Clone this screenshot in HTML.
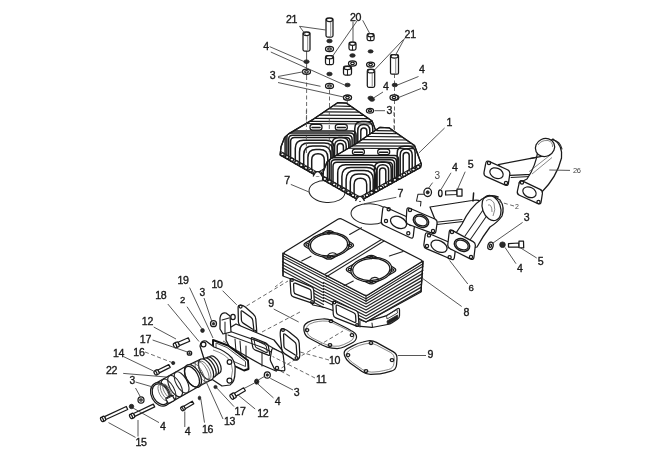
<!DOCTYPE html><html><head><meta charset="utf-8"><style>
html,body{margin:0;padding:0;background:#fff;width:650px;height:460px;overflow:hidden}
svg{display:block;filter:blur(0.3px)}
.o{fill:#fff;stroke:#1a1a1a;stroke-width:1.25;stroke-linejoin:round}
.on{fill:none;stroke:#1a1a1a;stroke-width:1.25;stroke-linejoin:round}
.f{fill:none;stroke:#222;stroke-width:1.05;stroke-linecap:round;stroke-linejoin:round}
.ft{fill:none;stroke:#1a1a1a;stroke-width:1.5;stroke-linecap:round;stroke-linejoin:round}
.fm{fill:none;stroke:#1a1a1a;stroke-width:1.25;stroke-linecap:round}
.fn{fill:none;stroke:#252525;stroke-width:1.25;stroke-linecap:round;stroke-linejoin:round}
.thin{fill:none;stroke:#555;stroke-width:0.7}
.l{stroke:#444;stroke-width:0.9;fill:none}
.d{stroke:#444;stroke-width:0.8;fill:none;stroke-dasharray:4 2.5}
.d2{stroke:#555;stroke-width:0.9;fill:none;stroke-dasharray:4 2.5}
.g7{fill:none;stroke:#222;stroke-width:1.0}
.g7f{fill:#fff;stroke:#222;stroke-width:1.0}
.dk{fill:#2a2a2a;stroke:#1c1c1c;stroke-width:0.8}
.t{font-family:"Liberation Sans",sans-serif;fill:#1a1a1a;stroke:#1a1a1a;stroke-width:0.35px;letter-spacing:-0.3px}
.tl{font-family:"Liberation Sans",sans-serif;fill:#444;letter-spacing:-0.3px}
</style></head><body>
<svg width="650" height="460" viewBox="0 0 650 460">
<rect width="650" height="460" fill="#fff"/>
<line x1="306.6" y1="76.0" x2="306.6" y2="140.0" class="d"/>
<line x1="329.5" y1="90.0" x2="329.5" y2="150.0" class="d"/>
<line x1="347.3" y1="101.0" x2="347.3" y2="112.0" class="d"/>
<line x1="394.5" y1="74.0" x2="394.5" y2="150.0" class="d"/>
<line x1="306.6" y1="51.0" x2="306.6" y2="76.0" class="l"/>
<rect x="303.0" y="32.0" width="7" height="19.0" rx="1.5" class="o"/>
<ellipse cx="306.5" cy="33.8" rx="3.1" ry="1.8" class="o"/>
<line x1="307.7" y1="36.0" x2="307.7" y2="50.0" class="thin"/>
<ellipse cx="306.5" cy="61.7" rx="2.7" ry="1.8" class="dk"/>
<ellipse cx="306.5" cy="71.8" rx="4.0" ry="2.6" class="o"/>
<ellipse cx="306.5" cy="71.8" rx="1.8" ry="1.2" class="o"/>
<rect x="326.0" y="18.0" width="7" height="19.0" rx="1.5" class="o"/>
<ellipse cx="329.5" cy="19.8" rx="3.1" ry="1.8" class="o"/>
<line x1="330.7" y1="22.0" x2="330.7" y2="36.0" class="thin"/>
<ellipse cx="329.5" cy="41.0" rx="2.7" ry="1.8" class="dk"/>
<ellipse cx="329.5" cy="49.0" rx="4.0" ry="2.6" class="o"/>
<ellipse cx="329.5" cy="49.0" rx="1.8" ry="1.2" class="o"/>
<rect x="325.5" y="55.5" width="8" height="9" rx="1.8" class="o"/>
<ellipse cx="329.5" cy="57.3" rx="3.4" ry="1.6" class="o"/>
<line x1="329.5" y1="59.0" x2="329.5" y2="64.5" class="f"/>
<ellipse cx="329.5" cy="74.0" rx="2.7" ry="1.8" class="dk"/>
<ellipse cx="329.5" cy="86.0" rx="4.0" ry="2.6" class="o"/>
<ellipse cx="329.5" cy="86.0" rx="1.8" ry="1.2" class="o"/>
<rect x="349.0" y="42.0" width="7" height="8" rx="1.8" class="o"/>
<ellipse cx="352.5" cy="43.8" rx="2.9" ry="1.6" class="o"/>
<line x1="352.5" y1="45.5" x2="352.5" y2="50.0" class="f"/>
<ellipse cx="352.5" cy="55.5" rx="2.7" ry="1.8" class="dk"/>
<ellipse cx="352.5" cy="63.4" rx="4.0" ry="2.6" class="o"/>
<ellipse cx="352.5" cy="63.4" rx="1.8" ry="1.2" class="o"/>
<rect x="343.5" y="66.1" width="8" height="9" rx="1.8" class="o"/>
<ellipse cx="347.5" cy="67.9" rx="3.4" ry="1.6" class="o"/>
<line x1="347.5" y1="69.6" x2="347.5" y2="75.1" class="f"/>
<ellipse cx="347.5" cy="85.0" rx="2.7" ry="1.8" class="dk"/>
<ellipse cx="347.5" cy="97.6" rx="4.0" ry="2.6" class="o"/>
<ellipse cx="347.5" cy="97.6" rx="1.8" ry="1.2" class="o"/>
<rect x="367.1" y="33.5" width="7" height="7" rx="1.8" class="o"/>
<ellipse cx="370.6" cy="35.3" rx="2.9" ry="1.6" class="o"/>
<line x1="370.6" y1="37.0" x2="370.6" y2="40.5" class="f"/>
<ellipse cx="370.6" cy="51.4" rx="2.5" ry="1.6" class="dk"/>
<ellipse cx="370.6" cy="64.6" rx="4.0" ry="2.6" class="o"/>
<ellipse cx="370.6" cy="64.6" rx="1.8" ry="1.2" class="o"/>
<rect x="367.3" y="69.4" width="7.4" height="17.9" rx="1.5" class="o"/>
<ellipse cx="371.0" cy="71.2" rx="3.3" ry="1.8" class="o"/>
<line x1="372.2" y1="73.4" x2="372.2" y2="86.3" class="thin"/>
<ellipse cx="370.6" cy="98.0" rx="2.7" ry="1.8" class="dk"/>
<rect x="390.5" y="54.5" width="8" height="19.7" rx="1.5" class="o"/>
<ellipse cx="394.5" cy="56.3" rx="3.6" ry="1.8" class="o"/>
<line x1="395.7" y1="58.5" x2="395.7" y2="73.2" class="thin"/>
<ellipse cx="394.8" cy="85.0" rx="2.7" ry="1.8" class="dk"/>
<ellipse cx="394.8" cy="97.6" rx="4.0" ry="2.6" class="o"/>
<ellipse cx="394.8" cy="97.6" rx="1.8" ry="1.2" class="o"/>
<ellipse cx="347.5" cy="97.6" rx="4.0" ry="2.6" class="o"/>
<ellipse cx="347.5" cy="97.6" rx="1.8" ry="1.2" class="o"/>
<ellipse cx="372.0" cy="99.5" rx="2.6" ry="1.8" class="dk"/>
<ellipse cx="370.0" cy="110.7" rx="3.6" ry="2.4" class="o"/>
<ellipse cx="370.0" cy="110.7" rx="1.6" ry="1.1" class="o"/>
<ellipse cx="394.0" cy="97.5" rx="4.0" ry="2.6" class="o"/>
<ellipse cx="394.0" cy="97.5" rx="1.8" ry="1.2" class="o"/>
<line x1="299.5" y1="26.3" x2="305.5" y2="34.5" class="l"/>
<line x1="299.5" y1="26.3" x2="325.8" y2="30.0" class="l"/>
<line x1="357.0" y1="21.0" x2="332.0" y2="57.0" class="l"/>
<line x1="353.0" y1="21.5" x2="353.0" y2="42.0" class="l"/>
<line x1="362.7" y1="20.3" x2="370.0" y2="34.0" class="l"/>
<line x1="404.6" y1="38.3" x2="395.0" y2="56.0" class="l"/>
<line x1="403.4" y1="39.5" x2="373.5" y2="71.0" class="l"/>
<line x1="269.6" y1="46.6" x2="304.0" y2="61.5" class="l"/>
<line x1="270.8" y1="52.0" x2="344.5" y2="85.0" class="l"/>
<line x1="278.0" y1="76.5" x2="303.0" y2="71.8" class="l"/>
<line x1="278.0" y1="77.5" x2="320.5" y2="86.3" class="l"/>
<line x1="278.0" y1="82.5" x2="343.5" y2="97.0" class="l"/>
<line x1="418.5" y1="76.5" x2="397.5" y2="85.0" class="l"/>
<line x1="421.0" y1="88.5" x2="398.6" y2="97.5" class="l"/>
<line x1="383.0" y1="92.0" x2="373.5" y2="98.0" class="l"/>
<line x1="374.6" y1="110.7" x2="385.0" y2="110.7" class="l"/>
<ellipse cx="327.0" cy="191.5" rx="18.0" ry="11.0" class="g7" transform="rotate(4 327.0 191.5)"/>
<ellipse cx="370.0" cy="214.0" rx="19.0" ry="10.3" class="g7f" transform="rotate(3 370.0 214.0)"/>
<clipPath id="hcL"><polygon points="380.0,127.3 389.0,127.8 405.8,139.5 414.5,145.5 421.4,164.2 420.5,167.5 360.0,201.0 322.5,179.5 323.5,171.0 327.0,162.0 331.0,158.5 356.0,143.7 370.0,134.0"/></clipPath>
<polygon points="337.6,102.7 346.6,103.2 363.4,114.9 372.1,120.9 379.0,139.6 378.1,142.9 317.6,176.4 280.1,154.9 281.1,146.4 284.6,137.4 288.6,133.9 313.6,119.1 327.6,109.4" class="o"/>
<g clip-path="url(#hcL)" transform="translate(-42.4,-24.6)">
<line x1="376.7" y1="130.6" x2="393.1" y2="130.9" class="fm"/>
<line x1="372.1" y1="133.4" x2="397.1" y2="133.7" class="fm"/>
<line x1="367.1" y1="136.5" x2="401.6" y2="136.8" class="fm"/>
<line x1="361.9" y1="139.7" x2="406.3" y2="140.0" class="fm"/>
<line x1="356.7" y1="142.9" x2="410.9" y2="143.2" class="fm"/>
<line x1="351.9" y1="145.9" x2="415.2" y2="146.2" class="fm"/>
<line x1="340.0" y1="148.2" x2="413.0" y2="148.6" class="f"/>
<rect x="352.4" y="149" width="12" height="5.6" rx="2.6" class="o"/>
<line x1="354.4" y1="152.2" x2="362.4" y2="152.2" class="ft"/>
<rect x="377.7" y="149" width="12" height="5.6" rx="2.6" class="o"/>
<line x1="379.7" y1="152.2" x2="387.7" y2="152.2" class="ft"/>
<path d="M327.5,184.4 L327.5,159.6 Q327.5,155.6 331.5,155.6 L394.5,155.6 Q398.5,155.6 398.5,159.6 L398.5,181.7" class="ft"/>
<path d="M329.3,185.4 L329.3,161.7 Q329.3,157.7 333.3,157.7 L392.5,157.7 Q396.5,157.7 396.5,161.7 L396.5,182.8" class="ft"/>
<path d="M331.1,186.4 L331.1,163.8 Q331.1,159.8 335.1,159.8 L390.5,159.8 Q394.5,159.8 394.5,163.8 L394.5,183.9" class="ft"/>
<path d="M333.0,187.5 L333.0,166.2 Q333.0,162.2 337.0,162.2 L388.5,162.2 Q392.5,162.2 392.5,166.2 L392.5,185.0" class="ft"/>
<path d="M354.1,199.6 L354.1,184.6 Q354.1,178.3 360.4,178.3 L360.4,178.3 Q366.7,178.3 366.7,184.6 L366.7,199.3" class="ft"/>
<path d="M350.3,197.4 L350.3,182.1 Q350.3,174.1 358.3,174.1 L362.2,174.1 Q370.2,174.1 370.2,182.1 L370.2,197.4" class="ft"/>
<path d="M346.1,195.0 L346.1,179.6 Q346.1,170.6 355.1,170.6 L364.2,170.6 Q373.2,170.6 373.2,179.6 L373.2,195.7" class="ft"/>
<path d="M341.9,192.6 L341.9,176.6 Q341.9,167.6 350.9,167.6 L366.6,167.6 Q375.6,167.6 375.6,176.6 L375.6,194.4" class="ft"/>
<path d="M337.7,190.2 L337.7,172.8 Q337.7,164.8 345.7,164.8 L368.6,164.8 Q376.6,164.8 376.6,172.8 L376.6,193.8" class="ft"/>
<path d="M379.6,192.1 L379.6,171.1 Q379.6,168.0 382.7,168.0 L382.7,168.0 Q385.8,168.0 385.8,171.1 L385.8,188.7" class="ft"/>
<path d="M377.0,193.6 L377.0,170.6 Q377.0,164.8 382.8,164.8 L382.8,164.8 Q388.6,164.8 388.6,170.6 L388.6,187.2" class="ft"/>
<path d="M374.4,195.0 L374.4,169.0 Q374.4,162.0 381.4,162.0 L384.2,162.0 Q391.2,162.0 391.2,169.0 L391.2,185.7" class="ft"/>
<path d="M403.2,179.1 L403.2,155.5 Q403.2,152.5 406.2,152.5 L406.2,152.5 Q409.2,152.5 409.2,155.5 L409.2,175.8" class="ft"/>
<path d="M400.2,180.7 L400.2,155.0 Q400.2,149.0 406.2,149.0 L406.2,149.0 Q412.2,149.0 412.2,155.0 L412.2,174.1" class="ft"/>
<path d="M397.2,182.4 L397.2,153.2 Q397.2,146.2 404.2,146.2 L408.2,146.2 Q415.2,146.2 415.2,153.2 L415.2,172.4" class="ft"/>
</g>
<polyline points="280.6,151.4 317.6,172.4 378.1,138.9" class="f"/>
<ellipse cx="282.4" cy="154.4" rx="1.8" ry="1.6" class="o"/>
<ellipse cx="287.1" cy="157.1" rx="1.8" ry="1.6" class="o"/>
<ellipse cx="291.8" cy="159.8" rx="1.8" ry="1.6" class="o"/>
<ellipse cx="296.5" cy="162.5" rx="1.8" ry="1.6" class="o"/>
<ellipse cx="301.2" cy="165.2" rx="1.8" ry="1.6" class="o"/>
<ellipse cx="305.9" cy="167.9" rx="1.8" ry="1.6" class="o"/>
<ellipse cx="310.6" cy="170.6" rx="1.8" ry="1.6" class="o"/>
<ellipse cx="315.3" cy="173.3" rx="1.8" ry="1.6" class="o"/>
<ellipse cx="319.9" cy="173.3" rx="1.8" ry="1.6" class="o"/>
<ellipse cx="324.6" cy="170.7" rx="1.8" ry="1.6" class="o"/>
<ellipse cx="329.2" cy="168.2" rx="1.8" ry="1.6" class="o"/>
<ellipse cx="333.9" cy="165.6" rx="1.8" ry="1.6" class="o"/>
<ellipse cx="338.5" cy="163.0" rx="1.8" ry="1.6" class="o"/>
<ellipse cx="343.2" cy="160.4" rx="1.8" ry="1.6" class="o"/>
<ellipse cx="347.9" cy="157.8" rx="1.8" ry="1.6" class="o"/>
<ellipse cx="352.5" cy="155.3" rx="1.8" ry="1.6" class="o"/>
<ellipse cx="357.2" cy="152.7" rx="1.8" ry="1.6" class="o"/>
<ellipse cx="361.8" cy="150.1" rx="1.8" ry="1.6" class="o"/>
<ellipse cx="366.5" cy="147.5" rx="1.8" ry="1.6" class="o"/>
<ellipse cx="371.1" cy="145.0" rx="1.8" ry="1.6" class="o"/>
<ellipse cx="375.8" cy="142.4" rx="1.8" ry="1.6" class="o"/>
<polygon points="337.6,102.7 346.6,103.2 363.4,114.9 372.1,120.9 379.0,139.6 378.1,142.9 317.6,176.4 280.1,154.9 281.1,146.4 284.6,137.4 288.6,133.9 313.6,119.1 327.6,109.4" class="on"/>
<path d="M313.1,176.4 Q317.6,166.9 322.1,176.4" class="o"/>
<clipPath id="hcR"><polygon points="380.0,127.3 389.0,127.8 405.8,139.5 414.5,145.5 421.4,164.2 420.5,167.5 360.0,201.0 322.5,179.5 323.5,171.0 327.0,162.0 331.0,158.5 356.0,143.7 370.0,134.0"/></clipPath>
<polygon points="380.0,127.3 389.0,127.8 405.8,139.5 414.5,145.5 421.4,164.2 420.5,167.5 360.0,201.0 322.5,179.5 323.5,171.0 327.0,162.0 331.0,158.5 356.0,143.7 370.0,134.0" class="o"/>
<g clip-path="url(#hcR)" transform="translate(0,0)">
<line x1="376.7" y1="130.6" x2="393.1" y2="130.9" class="fm"/>
<line x1="372.1" y1="133.4" x2="397.1" y2="133.7" class="fm"/>
<line x1="367.1" y1="136.5" x2="401.6" y2="136.8" class="fm"/>
<line x1="361.9" y1="139.7" x2="406.3" y2="140.0" class="fm"/>
<line x1="356.7" y1="142.9" x2="410.9" y2="143.2" class="fm"/>
<line x1="351.9" y1="145.9" x2="415.2" y2="146.2" class="fm"/>
<line x1="340.0" y1="148.2" x2="413.0" y2="148.6" class="f"/>
<rect x="352.4" y="149" width="12" height="5.6" rx="2.6" class="o"/>
<line x1="354.4" y1="152.2" x2="362.4" y2="152.2" class="ft"/>
<rect x="377.7" y="149" width="12" height="5.6" rx="2.6" class="o"/>
<line x1="379.7" y1="152.2" x2="387.7" y2="152.2" class="ft"/>
<path d="M327.5,184.4 L327.5,159.6 Q327.5,155.6 331.5,155.6 L394.5,155.6 Q398.5,155.6 398.5,159.6 L398.5,181.7" class="ft"/>
<path d="M329.3,185.4 L329.3,161.7 Q329.3,157.7 333.3,157.7 L392.5,157.7 Q396.5,157.7 396.5,161.7 L396.5,182.8" class="ft"/>
<path d="M331.1,186.4 L331.1,163.8 Q331.1,159.8 335.1,159.8 L390.5,159.8 Q394.5,159.8 394.5,163.8 L394.5,183.9" class="ft"/>
<path d="M333.0,187.5 L333.0,166.2 Q333.0,162.2 337.0,162.2 L388.5,162.2 Q392.5,162.2 392.5,166.2 L392.5,185.0" class="ft"/>
<path d="M354.1,199.6 L354.1,184.6 Q354.1,178.3 360.4,178.3 L360.4,178.3 Q366.7,178.3 366.7,184.6 L366.7,199.3" class="ft"/>
<path d="M350.3,197.4 L350.3,182.1 Q350.3,174.1 358.3,174.1 L362.2,174.1 Q370.2,174.1 370.2,182.1 L370.2,197.4" class="ft"/>
<path d="M346.1,195.0 L346.1,179.6 Q346.1,170.6 355.1,170.6 L364.2,170.6 Q373.2,170.6 373.2,179.6 L373.2,195.7" class="ft"/>
<path d="M341.9,192.6 L341.9,176.6 Q341.9,167.6 350.9,167.6 L366.6,167.6 Q375.6,167.6 375.6,176.6 L375.6,194.4" class="ft"/>
<path d="M337.7,190.2 L337.7,172.8 Q337.7,164.8 345.7,164.8 L368.6,164.8 Q376.6,164.8 376.6,172.8 L376.6,193.8" class="ft"/>
<path d="M379.6,192.1 L379.6,171.1 Q379.6,168.0 382.7,168.0 L382.7,168.0 Q385.8,168.0 385.8,171.1 L385.8,188.7" class="ft"/>
<path d="M377.0,193.6 L377.0,170.6 Q377.0,164.8 382.8,164.8 L382.8,164.8 Q388.6,164.8 388.6,170.6 L388.6,187.2" class="ft"/>
<path d="M374.4,195.0 L374.4,169.0 Q374.4,162.0 381.4,162.0 L384.2,162.0 Q391.2,162.0 391.2,169.0 L391.2,185.7" class="ft"/>
<path d="M403.2,179.1 L403.2,155.5 Q403.2,152.5 406.2,152.5 L406.2,152.5 Q409.2,152.5 409.2,155.5 L409.2,175.8" class="ft"/>
<path d="M400.2,180.7 L400.2,155.0 Q400.2,149.0 406.2,149.0 L406.2,149.0 Q412.2,149.0 412.2,155.0 L412.2,174.1" class="ft"/>
<path d="M397.2,182.4 L397.2,153.2 Q397.2,146.2 404.2,146.2 L408.2,146.2 Q415.2,146.2 415.2,153.2 L415.2,172.4" class="ft"/>
</g>
<polyline points="323.0,176.0 360.0,197.0 420.5,163.5" class="f"/>
<ellipse cx="324.8" cy="179.0" rx="1.8" ry="1.6" class="o"/>
<ellipse cx="329.5" cy="181.7" rx="1.8" ry="1.6" class="o"/>
<ellipse cx="334.2" cy="184.4" rx="1.8" ry="1.6" class="o"/>
<ellipse cx="338.9" cy="187.1" rx="1.8" ry="1.6" class="o"/>
<ellipse cx="343.6" cy="189.8" rx="1.8" ry="1.6" class="o"/>
<ellipse cx="348.3" cy="192.5" rx="1.8" ry="1.6" class="o"/>
<ellipse cx="353.0" cy="195.2" rx="1.8" ry="1.6" class="o"/>
<ellipse cx="357.7" cy="197.9" rx="1.8" ry="1.6" class="o"/>
<ellipse cx="362.3" cy="197.9" rx="1.8" ry="1.6" class="o"/>
<ellipse cx="367.0" cy="195.3" rx="1.8" ry="1.6" class="o"/>
<ellipse cx="371.6" cy="192.8" rx="1.8" ry="1.6" class="o"/>
<ellipse cx="376.3" cy="190.2" rx="1.8" ry="1.6" class="o"/>
<ellipse cx="380.9" cy="187.6" rx="1.8" ry="1.6" class="o"/>
<ellipse cx="385.6" cy="185.0" rx="1.8" ry="1.6" class="o"/>
<ellipse cx="390.2" cy="182.4" rx="1.8" ry="1.6" class="o"/>
<ellipse cx="394.9" cy="179.9" rx="1.8" ry="1.6" class="o"/>
<ellipse cx="399.6" cy="177.3" rx="1.8" ry="1.6" class="o"/>
<ellipse cx="404.2" cy="174.7" rx="1.8" ry="1.6" class="o"/>
<ellipse cx="408.9" cy="172.1" rx="1.8" ry="1.6" class="o"/>
<ellipse cx="413.5" cy="169.6" rx="1.8" ry="1.6" class="o"/>
<ellipse cx="418.2" cy="167.0" rx="1.8" ry="1.6" class="o"/>
<polygon points="380.0,127.3 389.0,127.8 405.8,139.5 414.5,145.5 421.4,164.2 420.5,167.5 360.0,201.0 322.5,179.5 323.5,171.0 327.0,162.0 331.0,158.5 356.0,143.7 370.0,134.0" class="on"/>
<path d="M355.5,201.0 Q360.0,191.5 364.5,201.0" class="o"/>
<line x1="306.4" y1="110.0" x2="306.4" y2="154.0" class="d2"/>
<line x1="329.3" y1="112.0" x2="329.3" y2="152.0" class="d2"/>
<line x1="394.0" y1="112.0" x2="394.0" y2="134.0" class="d2"/>
<path d="M351.5,319.5 Q352.0,317.0 354.4,317.6 L365.6,320.4 Q368.0,321.0 370.4,320.3 L383.6,316.7 Q386.0,316.0 388.1,314.7 L397.4,308.8 Q399.5,307.5 399.5,310.0 L399.5,315.5 Q399.5,318.0 397.4,319.3 L392.1,322.7 Q390.0,324.0 387.5,324.5 L374.5,327.0 Q372.0,327.5 369.5,327.2 L360.5,326.3 Q358.0,326.0 355.8,324.8 L353.2,323.2 Q351.0,322.0 351.5,319.5 Z" class="o"/>
<path d="M387,321 L397.5,315 L398,318.5 L387.5,324.5 Z" fill="#222" stroke="#222" stroke-width="0.8"/>
<path d="M386.5,315.5 L397,309.5 L397.5,313 L387,319 Z" fill="none" stroke="#333" stroke-width="0.9"/>
<line x1="360.0" y1="321.5" x2="360.0" y2="327.0" class="f"/>
<line x1="372.0" y1="323.0" x2="372.5" y2="327.5" class="f"/>
<polygon points="283.0,253.0 283.0,276.0 291.0,279.0 313.0,305.0 324.5,307.5 366.0,322.0 421.0,292.0 423.0,261.0 366.0,296.0" class="o"/>
<polyline points="282.5,261.7 323.5,283.5" class="fn"/>
<polyline points="282.5,264.7 323.5,286.5" class="fn"/>
<polyline points="282.5,267.7 323.5,289.5" class="fn"/>
<polyline points="282.5,270.7 323.5,292.5" class="fn"/>
<polyline points="296.0,280.7 323.5,295.5" class="fn"/>
<polyline points="296.0,283.7 323.5,298.5" class="fn"/>
<polyline points="296.0,286.7 323.5,301.5" class="fn"/>
<polyline points="296.0,289.7 323.5,304.5" class="fn"/>
<polyline points="296.0,292.7 323.5,307.5" class="fn"/>
<polyline points="323.5,282.5 366.0,304.0 423.0,270.2" class="fn"/>
<polyline points="323.5,285.5 366.0,307.0 422.6,273.6" class="fn"/>
<polyline points="323.5,288.5 366.0,310.0 422.2,277.1" class="fn"/>
<polyline points="323.5,291.5 366.0,313.0 421.8,280.6" class="fn"/>
<polyline points="323.5,294.5 366.0,316.0 421.4,284.0" class="fn"/>
<polyline points="323.5,297.5 366.0,319.0 421.0,287.4" class="fn"/>
<polyline points="323.5,300.5 366.0,322.0 420.6,290.9" class="fn"/>
<polyline points="283.0,255.8 366.0,298.8 423.0,263.8" class="f"/>
<polyline points="283.0,258.3 366.0,301.3 423.0,266.3" class="f"/>
<line x1="283.0" y1="253.0" x2="283.0" y2="276.0" class="on"/>
<line x1="423.0" y1="261.0" x2="421.0" y2="292.0" class="on"/>
<line x1="366.0" y1="296.0" x2="366.0" y2="302.0" class="f"/>
<path d="M285.2,254.2 Q283.0,253.0 285.1,251.7 L337.9,219.3 Q340.0,218.0 342.2,219.2 L420.8,259.8 Q423.0,261.0 420.9,262.3 L368.1,294.7 Q366.0,296.0 363.8,294.8 Z" class="o"/>
<line x1="324.5" y1="274.5" x2="381.5" y2="239.5" class="f"/>
<line x1="326.0" y1="277.0" x2="384.0" y2="241.0" class="f"/>
<line x1="349.6" y1="234.5" x2="361.5" y2="227.7" class="f"/>
<line x1="389.4" y1="256.0" x2="403.0" y2="251.4" class="f"/>
<line x1="301.7" y1="261.0" x2="311.0" y2="256.3" class="f"/>
<line x1="344.0" y1="285.7" x2="353.3" y2="281.0" class="f"/>
<path d="M305.9,247.0 Q302.0,244.8 305.9,242.6 L325.1,231.7 Q329.0,229.5 332.9,231.8 L351.6,243.0 Q355.5,245.3 351.6,247.5 L332.9,258.1 Q329.0,260.3 325.1,258.1 Z" class="o"/>
<ellipse cx="329.0" cy="244.8" rx="20.5" ry="12.3" class="o" transform="rotate(-4 329.0 244.8)"/>
<ellipse cx="329.0" cy="244.8" rx="18.6" ry="11.0" class="on" transform="rotate(-4 329.0 244.8)"/>
<ellipse cx="307.5" cy="244.8" rx="1.6" ry="1.2" class="on"/>
<ellipse cx="329.0" cy="232.8" rx="1.6" ry="1.2" class="on"/>
<ellipse cx="350.0" cy="245.3" rx="1.6" ry="1.2" class="on"/>
<ellipse cx="329.0" cy="256.8" rx="1.6" ry="1.2" class="on"/>
<path d="M327.0,255.8 Q331.0,250.8 336.0,253.8" class="f"/>
<path d="M348.2,271.7 Q344.3,269.5 348.2,267.3 L367.4,256.4 Q371.3,254.2 375.2,256.5 L393.9,267.7 Q397.8,270.0 393.9,272.2 L375.2,282.8 Q371.3,285.0 367.4,282.8 Z" class="o"/>
<ellipse cx="371.3" cy="269.5" rx="20.5" ry="12.3" class="o" transform="rotate(-4 371.3 269.5)"/>
<ellipse cx="371.3" cy="269.5" rx="18.6" ry="11.0" class="on" transform="rotate(-4 371.3 269.5)"/>
<ellipse cx="349.8" cy="269.5" rx="1.6" ry="1.2" class="on"/>
<ellipse cx="371.3" cy="257.5" rx="1.6" ry="1.2" class="on"/>
<ellipse cx="392.3" cy="270.0" rx="1.6" ry="1.2" class="on"/>
<ellipse cx="371.3" cy="281.5" rx="1.6" ry="1.2" class="on"/>
<path d="M369.3,280.5 Q373.3,275.5 378.3,278.5" class="f"/>
<path d="M290.1,280.5 Q290.0,278.0 292.3,278.9 L311.2,286.6 Q313.5,287.5 313.7,290.0 L314.3,301.5 Q314.5,304.0 312.1,303.2 L293.4,296.8 Q291.0,296.0 290.9,293.5 Z" class="o"/>
<path d="M293.6,284.5 Q293.5,282.5 295.4,283.2 L309.1,288.8 Q311.0,289.5 311.1,291.5 L311.4,298.0 Q311.5,300.0 309.6,299.3 L295.9,294.2 Q294.0,293.5 293.9,291.5 Z" class="on"/>
<path d="M332.7,303.0 Q332.5,300.5 334.8,301.5 L355.9,310.5 Q358.2,311.5 358.3,314.0 L358.9,324.5 Q359.0,327.0 356.7,326.1 L335.8,317.9 Q333.5,317.0 333.3,314.5 Z" class="o"/>
<path d="M336.1,306.5 Q336.0,304.5 337.8,305.3 L353.7,312.7 Q355.5,313.5 355.6,315.5 L355.9,321.0 Q356.0,323.0 354.2,322.2 L338.3,314.8 Q336.5,314.0 336.4,312.0 Z" class="on"/>
<ellipse cx="292.0" cy="280.0" rx="1.3" ry="1.3" class="on"/>
<ellipse cx="312.0" cy="302.0" rx="1.3" ry="1.3" class="on"/>
<ellipse cx="334.5" cy="302.5" rx="1.3" ry="1.3" class="on"/>
<ellipse cx="357.0" cy="325.0" rx="1.3" ry="1.3" class="on"/>
<path d="M430,207 L472,200.5 Q480,199 484,203 L480,216 Q472,219 463,221.5 L437,224.5 Z" class="o"/>
<line x1="438.0" y1="222.0" x2="462.0" y2="219.5" class="f"/>
<path d="M454,236 L462,224 Q470,207 482,199 Q492,194 500,200 Q505,207 502,216 Q498,222 490,227 Q483,236 477,247 L466,250 Z" class="o"/>
<line x1="465.0" y1="236.0" x2="483.0" y2="210.0" class="f"/>
<line x1="470.0" y1="240.0" x2="488.0" y2="214.0" class="f"/>
<ellipse cx="491.5" cy="208.0" rx="9.0" ry="13.0" class="o" transform="rotate(-20 491.5 208.0)"/>
<path d="M486,201 Q490,197 494,203 Q496,210 493,216" class="thin"/>
<path d="M488,205 Q492,204 492,212" class="thin"/>
<path d="M484,198 Q490,194 498,197" class="ft"/>
<line x1="473.0" y1="201.0" x2="473.6" y2="193.0" class="ft"/>
<path d="M382.7,209.0 Q383.0,206.0 385.7,207.2 L412.3,219.3 Q415.0,220.5 414.7,223.5 L413.3,236.0 Q413.0,239.0 410.3,237.7 L383.7,225.3 Q381.0,224.0 381.3,221.0 Z" class="o"/>
<ellipse cx="398.5" cy="222.4" rx="8.5" ry="5.5" class="o" transform="rotate(25 398.5 222.4)"/>
<ellipse cx="388.7" cy="209.3" rx="1.6" ry="1.6" class="on"/>
<ellipse cx="408.3" cy="233.3" rx="1.6" ry="1.6" class="on"/>
<ellipse cx="386.0" cy="221.0" rx="1.6" ry="1.6" class="on"/>
<ellipse cx="411.0" cy="224.0" rx="1.6" ry="1.6" class="on"/>
<path d="M406.8,210.0 Q407.0,207.0 409.8,208.2 L434.8,219.0 Q437.6,220.2 437.1,223.2 L435.9,231.3 Q435.4,234.3 432.6,233.3 L408.8,224.5 Q406.0,223.5 406.2,220.5 Z" class="o"/>
<ellipse cx="421.0" cy="221.0" rx="8.0" ry="6.0" class="ft" transform="rotate(25 421.0 221.0)"/>
<ellipse cx="421.0" cy="221.0" rx="6.5" ry="4.5" class="on" transform="rotate(25 421.0 221.0)"/>
<ellipse cx="410.0" cy="210.0" rx="1.6" ry="1.6" class="on"/>
<ellipse cx="433.0" cy="231.0" rx="1.6" ry="1.6" class="on"/>
<path d="M425.2,235.0 Q425.6,232.0 428.4,233.2 L453.2,244.0 Q456.0,245.2 455.6,248.2 L454.4,257.4 Q454.0,260.4 451.2,259.2 L426.3,248.6 Q423.5,247.4 423.9,244.4 Z" class="o"/>
<ellipse cx="439.0" cy="246.3" rx="8.5" ry="5.5" class="o" transform="rotate(25 439.0 246.3)"/>
<ellipse cx="429.0" cy="235.4" rx="1.6" ry="1.6" class="on"/>
<ellipse cx="449.6" cy="257.2" rx="1.6" ry="1.6" class="on"/>
<ellipse cx="427.0" cy="246.0" rx="1.6" ry="1.6" class="on"/>
<ellipse cx="452.0" cy="248.0" rx="1.6" ry="1.6" class="on"/>
<path d="M449.2,232.0 Q449.6,229.0 452.2,230.4 L473.1,241.6 Q475.7,243.0 475.3,246.0 L473.9,257.4 Q473.5,260.4 470.8,259.1 L450.1,248.7 Q447.4,247.4 447.8,244.4 Z" class="o"/>
<ellipse cx="462.0" cy="245.0" rx="8.0" ry="6.0" class="ft" transform="rotate(25 462.0 245.0)"/>
<ellipse cx="462.0" cy="245.0" rx="6.5" ry="4.5" class="on" transform="rotate(25 462.0 245.0)"/>
<ellipse cx="452.0" cy="232.0" rx="1.6" ry="1.6" class="on"/>
<ellipse cx="471.0" cy="257.0" rx="1.6" ry="1.6" class="on"/>
<ellipse cx="490.5" cy="245.8" rx="2.6" ry="3.8" class="o" transform="rotate(15 490.5 245.8)"/>
<ellipse cx="490.5" cy="245.8" rx="1.0" ry="1.6" class="on" transform="rotate(15 490.5 245.8)"/>
<ellipse cx="502.5" cy="244.7" rx="2.8" ry="2.8" class="dk"/>
<path d="M508.5,243.6 L519,243 L519,247 L508.5,247 Z" class="o"/>
<path d="M519,241 L523.5,241.2 L523.7,247.8 L519,247.6 Z" class="o"/>
<ellipse cx="427.7" cy="192.3" rx="3.8" ry="4.2" class="o"/>
<ellipse cx="427.7" cy="192.3" rx="1.5" ry="1.6" class="dk"/>
<ellipse cx="440.3" cy="193.2" rx="1.8" ry="3.3" class="o"/>
<path d="M445.6,191 L457,190.5 L457,194.5 L445.6,195 Z" class="o"/>
<path d="M457,189 L462,189 L462,196 L457,196 Z" class="o"/>
<path d="M424,194.2 L418,194.2 L416.5,201 L421,201.5 L420.5,206" class="f"/>
<path d="M498.3,164.6 L549.3,154.8 L546,169 L531,174.3 L510.2,175.4 Z" class="o"/>
<line x1="511.0" y1="177.5" x2="530.0" y2="176.5" class="f"/>
<path d="M538,150 Q536,166 527,179 L519,183 L541,193 Q557,177 561.5,158 Q563,145 553,139 Z" class="o"/>
<line x1="529.0" y1="171.7" x2="550.0" y2="155.2" class="thin"/>
<line x1="532.0" y1="174.0" x2="552.0" y2="157.5" class="thin"/>
<line x1="530.0" y1="158.6" x2="550.5" y2="154.6" class="on"/>
<ellipse cx="545.0" cy="147.5" rx="9.8" ry="8.8" class="o" transform="rotate(-25 545.0 147.5)"/>
<path d="M538,145 Q541,140 548,140.5 Q553,142 552.5,147" class="thin"/>
<path d="M553,140 Q560,141 562,149" class="f"/>
<path d="M485.8,163.2 Q486.3,160.2 489.0,161.4 L507.5,169.8 Q510.2,171.0 509.8,174.0 L508.4,183.3 Q508.0,186.3 505.3,185.1 L486.2,176.6 Q483.5,175.4 484.0,172.4 Z" class="o"/>
<ellipse cx="496.5" cy="173.2" rx="7.0" ry="5.0" class="o" transform="rotate(25 496.5 173.2)"/>
<ellipse cx="489.0" cy="163.0" rx="1.6" ry="1.6" class="on"/>
<ellipse cx="506.0" cy="183.0" rx="1.6" ry="1.6" class="on"/>
<path d="M519.3,182.7 Q520.0,179.8 522.7,181.1 L540.1,189.4 Q542.8,190.7 542.4,193.7 L541.1,201.8 Q540.7,204.8 538.0,203.6 L519.4,195.2 Q516.7,194.0 517.4,191.1 Z" class="o"/>
<ellipse cx="529.5" cy="192.3" rx="7.0" ry="5.0" class="o" transform="rotate(25 529.5 192.3)"/>
<ellipse cx="522.0" cy="182.5" rx="1.6" ry="1.6" class="on"/>
<ellipse cx="538.5" cy="202.0" rx="1.6" ry="1.6" class="on"/>
<path d="M303.9,329.9 Q303.0,325.0 307.4,322.6 L307.6,322.4 Q312.0,320.0 317.0,319.5 L322.5,319.0 Q327.5,318.5 332.0,320.7 L342.0,325.8 Q346.5,328.0 350.8,330.5 L352.7,331.5 Q357.0,334.0 356.5,337.5 L356.5,337.5 Q356.0,341.0 351.5,343.2 L344.5,346.8 Q340.0,349.0 335.0,348.4 L332.0,348.1 Q327.0,347.5 322.6,345.2 L309.4,338.3 Q305.0,336.0 304.1,331.1 Z" class="o"/>
<path d="M306.6,330.9 Q305.7,326.2 309.8,324.0 L309.8,324.0 Q313.8,321.9 318.8,321.4 L322.8,321.0 Q327.8,320.6 332.3,322.7 L340.4,326.6 Q344.9,328.7 349.3,331.1 L350.0,331.5 Q354.3,333.9 353.9,336.9 L353.9,336.9 Q353.4,339.9 348.9,342.1 L343.6,344.6 Q339.0,346.8 334.1,346.2 L332.3,346.0 Q327.3,345.5 322.9,343.3 L312.0,337.8 Q307.5,335.6 306.6,330.9 Z" class="thin"/>
<ellipse cx="307.0" cy="330.0" rx="1.8" ry="1.5" class="on"/>
<ellipse cx="331.0" cy="321.0" rx="1.8" ry="1.5" class="on"/>
<ellipse cx="352.0" cy="335.0" rx="1.8" ry="1.5" class="on"/>
<ellipse cx="330.0" cy="345.0" rx="1.8" ry="1.5" class="on"/>
<path d="M344.5,355.5 Q343.0,351.0 347.4,348.6 L353.6,345.4 Q358.0,343.0 362.9,342.0 L367.1,341.0 Q372.0,340.0 376.4,342.4 L393.1,351.6 Q397.5,354.0 397.0,359.0 L396.5,365.0 Q396.0,370.0 391.1,371.2 L384.9,372.8 Q380.0,374.0 375.0,374.2 L371.0,374.3 Q366.0,374.5 362.0,371.6 L350.0,362.9 Q346.0,360.0 344.5,355.5 Z" class="o"/>
<path d="M347.0,355.9 Q345.7,352.0 350.1,349.8 L354.7,347.4 Q359.2,345.1 364.1,344.1 L366.9,343.6 Q371.8,342.6 376.2,344.9 L390.3,352.3 Q394.7,354.6 394.2,359.6 L393.9,363.4 Q393.4,368.4 388.5,369.5 L383.8,370.6 Q379.0,371.8 374.0,372.0 L371.4,372.1 Q366.4,372.2 362.3,369.4 L352.5,362.6 Q348.4,359.8 347.0,355.9 Z" class="thin"/>
<ellipse cx="348.0" cy="355.0" rx="1.8" ry="1.5" class="on"/>
<ellipse cx="371.0" cy="343.0" rx="1.8" ry="1.5" class="on"/>
<ellipse cx="392.0" cy="360.0" rx="1.8" ry="1.5" class="on"/>
<ellipse cx="366.0" cy="371.0" rx="1.8" ry="1.5" class="on"/>
<line x1="296.0" y1="359.0" x2="343.0" y2="331.0" class="d"/>
<line x1="246.5" y1="306.0" x2="288.0" y2="281.0" class="d"/>
<line x1="262.0" y1="332.0" x2="300.0" y2="312.0" class="d"/>
<line x1="223.0" y1="341.0" x2="290.0" y2="376.0" class="d"/>
<path d="M280.5,330.5 Q281.0,328.0 283.8,328.9 L284.2,329.1 Q287.0,330.0 289.3,331.9 L296.7,338.1 Q299.0,340.0 299.2,343.0 L299.8,355.0 Q300.0,358.0 298.0,359.5 L298.0,359.5 Q296.0,361.0 293.5,359.4 L284.5,353.6 Q282.0,352.0 281.7,349.0 L280.3,336.0 Q280.0,333.0 280.5,330.5 Z" class="o"/>
<path d="M283.6,335.0 Q283.5,333.0 285.1,334.2 L294.4,341.8 Q296.0,343.0 296.2,345.0 L296.8,354.0 Q297.0,356.0 295.3,355.0 L285.7,349.0 Q284.0,348.0 283.9,346.0 Z" class="on"/>
<ellipse cx="283.0" cy="330.0" rx="1.4" ry="1.4" class="on"/>
<ellipse cx="296.5" cy="358.0" rx="1.4" ry="1.4" class="on"/>
<path d="M238.1,308.0 Q238.0,305.0 240.5,305.0 L240.5,305.0 Q243.0,305.0 245.3,307.0 L253.2,314.0 Q255.5,316.0 255.8,319.0 L256.7,330.5 Q257.0,333.5 254.5,333.8 L254.5,333.8 Q252.0,334.0 249.5,332.3 L241.0,326.7 Q238.5,325.0 238.4,322.0 Z" class="o"/>
<path d="M241.1,312.0 Q241.0,310.0 242.6,311.2 L250.9,317.3 Q252.5,318.5 252.8,320.5 L253.7,328.0 Q254.0,330.0 252.3,328.9 L243.2,323.1 Q241.5,322.0 241.4,320.0 Z" class="on"/>
<ellipse cx="240.6" cy="306.5" rx="1.5" ry="1.5" class="on"/>
<ellipse cx="254.5" cy="331.5" rx="1.5" ry="1.5" class="on"/>
<path d="M226,330 L236,324 L262,335 L274,340 L282,350 L282,367 L276,371 L262,365 L246,356 L229,346 L226,340 Z" class="o"/>
<polyline points="229.0,331.0 266.0,344.0 280.0,352.0" class="f"/>
<polyline points="228.0,335.0 264.0,348.0 278.0,356.0" class="f"/>
<path d="M251.3,339.0 Q251.0,337.0 252.8,337.8 L266.2,343.2 Q268.0,344.0 268.3,346.0 L269.7,354.0 Q270.0,356.0 268.2,355.2 L254.8,349.8 Q253.0,349.0 252.7,347.0 Z" class="on"/>
<path d="M254.3,341.0 Q254.0,339.5 255.4,340.1 L264.6,344.4 Q266.0,345.0 266.3,346.5 L267.2,351.5 Q267.5,353.0 266.1,352.4 L256.9,348.1 Q255.5,347.5 255.2,346.0 Z" class="f"/>
<line x1="235.0" y1="339.0" x2="236.0" y2="352.0" class="f"/>
<line x1="240.0" y1="341.0" x2="241.0" y2="355.0" class="f"/>
<line x1="262.0" y1="352.0" x2="262.0" y2="366.0" class="f"/>
<line x1="246.0" y1="346.0" x2="246.0" y2="358.0" class="f"/>
<path d="M220,318 Q221,312 226,313 L230,316 L231,332 L223,334 L220,329 Z" class="o"/>
<line x1="222.0" y1="320.0" x2="229.0" y2="318.0" class="f"/>
<line x1="225.0" y1="322.0" x2="225.0" y2="333.0" class="f"/>
<ellipse cx="233.0" cy="317.0" rx="2.2" ry="2.6" class="on"/>
<path d="M271.7,350.0 Q272.0,348.0 273.8,348.8 L281.2,352.2 Q283.0,353.0 283.2,355.0 L284.8,369.0 Q285.0,371.0 283.0,370.8 L277.0,370.2 Q275.0,370.0 274.1,368.2 L270.9,361.8 Q270.0,360.0 270.3,358.0 Z" class="o"/>
<ellipse cx="277.0" cy="368.0" rx="1.6" ry="1.6" class="on"/>
<path d="M213,340 L228,345.5 L248,360.5 L248.5,369 L244,370.5 L222,360 L213,354 Z" fill="none" stroke="#111" stroke-width="1.9" stroke-linejoin="round"/>
<path d="M216,343 L227,347.5 L245.5,361.5 L245.5,366.5 L223,357 L216,352 Z" fill="none" stroke="#333" stroke-width="0.9" stroke-linejoin="round"/>
<path d="M200,346 Q201,340 206,341 L214,347 Q226,351 232,358 Q236,364 235,372 Q235,382 230,385 L222,386 L210,378 Z" class="o"/>
<path d="M213,350 Q226,354 231,362 Q234,370 231,380" class="thin"/>
<ellipse cx="203.5" cy="344.5" rx="2.4" ry="2.4" class="o"/>
<ellipse cx="229.5" cy="362.0" rx="2.3" ry="2.3" class="o"/>
<ellipse cx="229.5" cy="380.5" rx="2.5" ry="2.5" class="o"/>
<ellipse cx="214.8" cy="364.7" rx="5.0" ry="9.7" class="o" transform="rotate(-28.564718194353627 214.8 364.7)"/>
<ellipse cx="212.1" cy="366.2" rx="5.0" ry="10.1" class="o" transform="rotate(-28.564718194353627 212.1 366.2)"/>
<ellipse cx="209.5" cy="367.6" rx="5.0" ry="10.6" class="o" transform="rotate(-28.564718194353627 209.5 367.6)"/>
<polygon points="198.7,386.5 211.5,379.6 200.5,359.4 187.3,365.5" class="o"/>
<ellipse cx="206.0" cy="369.5" rx="6.0" ry="11.6" class="o" transform="rotate(-28.564718194353627 206.0 369.5)"/>
<ellipse cx="204.8" cy="370.2" rx="4.5" ry="10.0" class="thin" transform="rotate(-28.564718194353627 204.8 370.2)"/>
<ellipse cx="197.6" cy="373.7" rx="5.0" ry="11.5" class="thin" transform="rotate(-28.564718194353627 197.6 373.7)"/>
<ellipse cx="202.1" cy="371.4" rx="5.0" ry="11.5" class="thin" transform="rotate(-28.564718194353627 202.1 371.4)"/>
<polygon points="166.2,404.9 198.7,386.5 187.3,365.5 154.8,383.9" class="o"/>
<ellipse cx="193.0" cy="376.0" rx="7.0" ry="12.4" class="o" transform="rotate(-28.564718194353627 193.0 376.0)"/>
<ellipse cx="192.0" cy="376.6" rx="6.0" ry="11.2" class="on" transform="rotate(-28.564718194353627 192.0 376.6)"/>
<ellipse cx="168.6" cy="389.8" rx="5.5" ry="11.8" class="f" transform="rotate(-28.564718194353627 168.6 389.8)"/>
<ellipse cx="175.1" cy="386.1" rx="5.5" ry="11.8" class="f" transform="rotate(-28.564718194353627 175.1 386.1)"/>
<ellipse cx="181.6" cy="382.4" rx="5.5" ry="11.8" class="f" transform="rotate(-28.564718194353627 181.6 382.4)"/>
<ellipse cx="160.5" cy="394.4" rx="9.2" ry="12.4" class="o" transform="rotate(-28.564718194353627 160.5 394.4)"/>
<ellipse cx="160.8" cy="394.2" rx="7.8" ry="11.0" class="on" transform="rotate(-28.564718194353627 160.8 394.2)"/>
<ellipse cx="163.5" cy="392.8" rx="4.0" ry="9.0" class="thin" transform="rotate(-28.564718194353627 163.5 392.8)"/>
<ellipse cx="165.3" cy="391.8" rx="3.5" ry="8.2" class="thin" transform="rotate(-28.564718194353627 165.3 391.8)"/>
<ellipse cx="167.1" cy="390.8" rx="3.0" ry="7.4" class="thin" transform="rotate(-28.564718194353627 167.1 390.8)"/>
<rect x="166.5" y="396.4" width="7.5" height="6" rx="1.2" class="o" transform="rotate(-28 170.0 399.4)"/>
<line x1="167.5" y1="398.4" x2="173.5" y2="395.4" class="f"/>
<polygon points="179.4,345.6 189.7,341.2 188.3,337.8 178.0,342.3" class="o"/>
<path d="M175.5,346.7 Q176.0,347.8 177.1,347.3 L178.6,346.7 Q179.7,346.2 179.2,345.1 L178.2,342.7 Q177.7,341.6 176.6,342.1 L175.1,342.7 Q174.0,343.2 174.5,344.3 Z" class="o"/>
<ellipse cx="175.0" cy="345.5" rx="1.4" ry="2.5" class="o" transform="rotate(-23.19859051364819 175.0 345.5)"/>
<polygon points="159.3,372.9 170.2,367.4 168.8,364.6 157.9,370.0" class="o"/>
<path d="M156.0,374.0 Q156.5,375.1 157.6,374.5 L158.6,374.0 Q159.7,373.5 159.1,372.4 L158.1,370.5 Q157.6,369.4 156.5,369.9 L155.5,370.4 Q154.5,370.9 155.0,372.0 Z" class="o"/>
<ellipse cx="155.5" cy="373.0" rx="1.2" ry="2.3" class="o" transform="rotate(-26.56505117707799 155.5 373.0)"/>
<polygon points="105.8,419.5 127.7,409.5 126.3,406.5 104.5,416.6" class="o"/>
<path d="M102.5,420.5 Q103.0,421.6 104.1,421.1 L105.1,420.6 Q106.1,420.1 105.6,419.0 L104.7,417.0 Q104.2,415.9 103.1,416.4 L102.1,416.9 Q101.0,417.4 101.5,418.5 Z" class="o"/>
<ellipse cx="102.0" cy="419.5" rx="1.2" ry="2.3" class="o" transform="rotate(-24.70243022777131 102.0 419.5)"/>
<polygon points="134.8,416.4 154.7,406.9 153.3,404.1 133.5,413.5" class="o"/>
<path d="M131.5,417.5 Q132.0,418.6 133.1,418.1 L134.1,417.6 Q135.1,417.1 134.6,416.0 L133.7,414.0 Q133.2,412.9 132.1,413.4 L131.1,413.9 Q130.0,414.4 130.5,415.5 Z" class="o"/>
<ellipse cx="131.0" cy="416.5" rx="1.2" ry="2.3" class="o" transform="rotate(-25.559965171823812 131.0 416.5)"/>
<polygon points="185.3,408.8 193.8,403.8 192.2,401.2 183.8,406.2" class="o"/>
<path d="M182.5,409.8 Q183.1,410.8 184.1,410.2 L184.6,409.9 Q185.7,409.3 185.0,408.2 L184.1,406.7 Q183.5,405.7 182.5,406.3 L182.0,406.6 Q180.9,407.2 181.5,408.2 Z" class="o"/>
<ellipse cx="182.0" cy="409.0" rx="1.0" ry="2.1" class="o" transform="rotate(-30.579226872489016 182.0 409.0)"/>
<polygon points="236.1,396.2 245.4,390.8 243.6,387.8 234.4,393.3" class="o"/>
<path d="M232.6,398.1 Q233.2,399.1 234.2,398.5 L235.6,397.7 Q236.6,397.1 236.0,396.1 L234.5,393.5 Q233.9,392.4 232.8,393.1 L231.5,393.9 Q230.4,394.5 231.0,395.5 Z" class="o"/>
<ellipse cx="231.8" cy="396.8" rx="1.4" ry="2.7" class="o" transform="rotate(-30.56402502102483 231.8 396.8)"/>
<ellipse cx="189.5" cy="353.2" rx="2.2" ry="2.0" class="o"/>
<ellipse cx="189.5" cy="353.2" rx="0.8" ry="0.8" class="dk"/>
<ellipse cx="173.2" cy="363.0" rx="1.6" ry="1.6" class="dk"/>
<ellipse cx="202.5" cy="330.5" rx="1.8" ry="2.0" class="dk"/>
<ellipse cx="213.5" cy="323.7" rx="3.0" ry="3.0" class="o"/>
<ellipse cx="213.5" cy="323.7" rx="1.2" ry="1.2" class="dk"/>
<ellipse cx="141.0" cy="400.0" rx="3.0" ry="3.2" class="o"/>
<ellipse cx="141.0" cy="400.0" rx="1.2" ry="1.2" class="on"/>
<ellipse cx="131.5" cy="406.5" rx="2.2" ry="2.2" class="dk"/>
<ellipse cx="199.5" cy="398.0" rx="1.3" ry="1.8" class="dk"/>
<ellipse cx="215.5" cy="387.0" rx="1.6" ry="1.6" class="dk"/>
<ellipse cx="267.3" cy="375.0" rx="3.0" ry="3.2" class="o"/>
<ellipse cx="267.3" cy="375.0" rx="1.2" ry="1.2" class="dk"/>
<ellipse cx="256.7" cy="381.6" rx="2.2" ry="2.6" class="dk"/>
<ellipse cx="256.7" cy="381.6" rx="0.8" ry="1.0" class="o"/>
<line x1="244.0" y1="388.5" x2="254.5" y2="383.0" class="l"/>
<line x1="259.0" y1="379.6" x2="264.7" y2="376.3" class="l"/>
<line x1="444.6" y1="128.0" x2="418.5" y2="153.3" class="l"/>
<line x1="432.6" y1="182.6" x2="428.3" y2="188.5" class="l"/>
<line x1="451.0" y1="172.8" x2="441.3" y2="189.0" class="l"/>
<line x1="465.2" y1="171.7" x2="457.6" y2="189.0" class="l"/>
<line x1="549.3" y1="170.0" x2="570.0" y2="170.4" class="l"/>
<line x1="514.0" y1="206.0" x2="499.0" y2="201.7" class="d"/>
<line x1="522.6" y1="222.4" x2="493.0" y2="243.0" class="l"/>
<line x1="505.0" y1="247.4" x2="516.0" y2="263.7" class="l"/>
<line x1="518.0" y1="246.3" x2="536.7" y2="258.0" class="l"/>
<line x1="449.6" y1="260.4" x2="467.8" y2="284.0" class="l"/>
<line x1="421.7" y1="277.8" x2="461.7" y2="306.5" class="l"/>
<line x1="290.8" y1="184.4" x2="309.0" y2="192.0" class="l"/>
<line x1="396.3" y1="197.3" x2="364.0" y2="203.8" class="l"/>
<line x1="397.8" y1="355.5" x2="426.0" y2="355.5" class="l"/>
<line x1="273.7" y1="309.0" x2="298.7" y2="322.0" class="l"/>
<line x1="329.0" y1="360.0" x2="300.0" y2="352.0" class="d"/>
<line x1="315.0" y1="378.0" x2="272.6" y2="356.5" class="d"/>
<line x1="222.6" y1="290.7" x2="236.7" y2="304.8" class="l"/>
<line x1="204.0" y1="298.0" x2="211.7" y2="321.0" class="l"/>
<line x1="189.6" y1="287.6" x2="213.0" y2="338.0" class="l"/>
<line x1="167.8" y1="304.0" x2="199.0" y2="341.5" class="l"/>
<line x1="187.0" y1="306.7" x2="201.7" y2="328.5" class="l"/>
<line x1="153.7" y1="327.0" x2="176.0" y2="339.0" class="l"/>
<line x1="152.6" y1="340.0" x2="187.4" y2="352.0" class="l"/>
<line x1="145.0" y1="352.0" x2="172.0" y2="362.5" class="d"/>
<line x1="123.3" y1="356.5" x2="153.5" y2="371.0" class="l"/>
<line x1="123.2" y1="373.4" x2="166.3" y2="377.0" class="l"/>
<line x1="135.5" y1="382.0" x2="152.8" y2="387.0" class="l"/>
<line x1="135.5" y1="388.0" x2="140.5" y2="397.0" class="l"/>
<line x1="133.0" y1="408.0" x2="159.0" y2="422.6" class="l"/>
<line x1="135.5" y1="437.4" x2="108.5" y2="422.6" class="l"/>
<line x1="138.0" y1="436.5" x2="138.0" y2="420.0" class="l"/>
<line x1="184.8" y1="411.5" x2="184.8" y2="427.0" class="l"/>
<line x1="200.8" y1="399.0" x2="204.5" y2="422.6" class="l"/>
<line x1="223.0" y1="419.0" x2="205.7" y2="380.8" class="l"/>
<line x1="234.0" y1="406.6" x2="216.8" y2="388.0" class="l"/>
<line x1="237.6" y1="394.6" x2="255.2" y2="409.0" class="l"/>
<line x1="257.9" y1="384.0" x2="273.5" y2="397.9" class="l"/>
<line x1="270.3" y1="378.3" x2="293.0" y2="390.0" class="l"/>
<line x1="282.8" y1="281.0" x2="275.0" y2="287.0" class="d"/>
<line x1="296.0" y1="359.0" x2="275.0" y2="372.0" class="d"/>
<text x="286.0" y="23.3" font-size="10.6" class="t">21</text>
<text x="350.0" y="21.0" font-size="10.6" class="t">20</text>
<text x="404.6" y="38.0" font-size="10.6" class="t">21</text>
<text x="263.2" y="50.0" font-size="10.6" class="t">4</text>
<text x="269.7" y="79.3" font-size="10.6" class="t">3</text>
<text x="419.0" y="73.0" font-size="10.6" class="t">4</text>
<text x="421.8" y="89.9" font-size="10.6" class="t">3</text>
<text x="383.0" y="90.0" font-size="10.6" class="t">4</text>
<text x="386.5" y="113.8" font-size="10.6" class="t">3</text>
<text x="446.5" y="126.0" font-size="10.6" class="t">1</text>
<text x="284.3" y="184.4" font-size="10.6" class="t">7</text>
<text x="397.4" y="197.3" font-size="10.6" class="t">7</text>
<text x="452.0" y="170.7" font-size="10.6" class="t">4</text>
<text x="467.7" y="168.0" font-size="10.6" class="t">5</text>
<text x="523.7" y="221.3" font-size="10.6" class="t">3</text>
<text x="517.0" y="272.4" font-size="10.6" class="t">4</text>
<text x="537.8" y="264.8" font-size="10.6" class="t">5</text>
<text x="463.6" y="315.6" font-size="10.6" class="t">8</text>
<text x="427.5" y="357.5" font-size="10.6" class="t">9</text>
<text x="268.3" y="307.0" font-size="10.6" class="t">9</text>
<text x="329.0" y="363.5" font-size="10.6" class="t">10</text>
<text x="316.0" y="383.0" font-size="10.6" class="t">11</text>
<text x="211.4" y="287.6" font-size="10.6" class="t">10</text>
<text x="177.4" y="284.4" font-size="10.6" class="t">19</text>
<text x="155.2" y="298.7" font-size="10.6" class="t">18</text>
<text x="141.8" y="324.8" font-size="10.6" class="t">12</text>
<text x="139.8" y="343.0" font-size="10.6" class="t">17</text>
<text x="133.3" y="355.5" font-size="10.6" class="t">16</text>
<text x="113.0" y="357.4" font-size="10.6" class="t">14</text>
<text x="105.9" y="374.4" font-size="10.6" class="t">22</text>
<text x="160.0" y="430.0" font-size="10.6" class="t">4</text>
<text x="135.5" y="445.5" font-size="10.6" class="t">15</text>
<text x="184.8" y="435.0" font-size="10.6" class="t">4</text>
<text x="202.0" y="432.5" font-size="10.6" class="t">16</text>
<text x="224.0" y="425.0" font-size="10.6" class="t">13</text>
<text x="234.4" y="414.8" font-size="10.6" class="t">17</text>
<text x="257.2" y="416.8" font-size="10.6" class="t">12</text>
<text x="274.8" y="405.0" font-size="10.6" class="t">4</text>
<text x="293.8" y="396.0" font-size="10.6" class="t">3</text>
<text x="434.6" y="178.8" font-size="10" class="tl">3</text>
<text x="129.4" y="383.5" font-size="10.2" class="t">3</text>
<text x="199.6" y="296.1" font-size="10.2" class="t">3</text>
<text x="180.0" y="302.6" font-size="9.5" class="t">2</text>
<text x="468.6" y="291.3" font-size="9.6" class="t">6</text>
<text x="573.0" y="173.3" font-size="7.5" class="tl">26</text>
<text x="515.0" y="209.3" font-size="7" class="tl">2</text>
</svg></body></html>
